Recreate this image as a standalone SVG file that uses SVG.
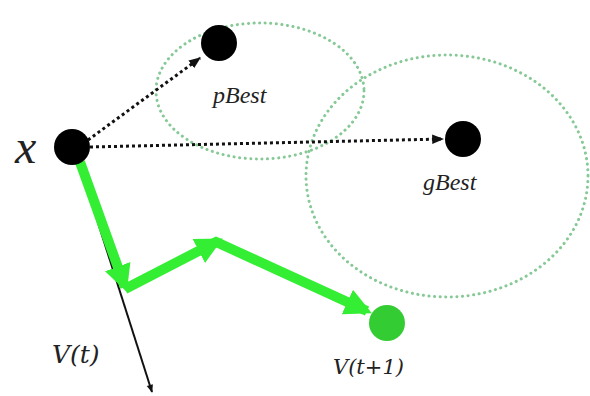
<svg xmlns="http://www.w3.org/2000/svg" width="590" height="396" viewBox="0 0 590 396">
<style>
.reg{fill:none;stroke:#86c996;stroke-width:3;stroke-dasharray:0.1 5.5;stroke-linecap:round}
.dot{fill:none;stroke:#111;stroke-width:3;stroke-dasharray:3 3}
.grn{fill:none;stroke:#33ee33;stroke-width:10;stroke-linejoin:miter}
.lbl{font-family:"Liberation Serif",serif;font-style:italic;fill:#222}
.lbl2{font-family:"DejaVu Serif","Liberation Serif",serif;font-style:italic;fill:#222}
</style>
<defs>
<marker id="ab" viewBox="0 0 10 10" refX="9" refY="5" markerWidth="4" markerHeight="4" orient="auto"><path d="M0,1 L10,5 L0,9 z" fill="#111"/></marker>
<marker id="ak" viewBox="0 0 10 10" refX="9" refY="5" markerWidth="10" markerHeight="8" orient="auto" markerUnits="userSpaceOnUse"><path d="M0,1 L10,5 L0,9 z" fill="#111"/></marker>
<marker id="ag" viewBox="0 0 10 10" refX="8" refY="5" markerWidth="2.7" markerHeight="2.7" orient="auto"><path d="M0,0 L10,5 L0,10 z" fill="#33ee33"/></marker>
</defs>
<rect width="590" height="396" fill="#fff"/>
<g id="regions">
<ellipse class="reg" cx="260" cy="91" rx="104" ry="68"/>
<ellipse class="reg" cx="447" cy="176" rx="141" ry="121"/>
</g>
<g id="connectors">
<line class="dot" x1="88" y1="140" x2="200" y2="58" marker-end="url(#ab)"/>
<line class="dot" x1="90" y1="147" x2="443" y2="139" marker-end="url(#ab)"/>
<line x1="78" y1="160" x2="152" y2="392" stroke="#111" stroke-width="2" marker-end="url(#ak)"/>
<line class="grn" x1="80" y1="162" x2="125" y2="287" marker-end="url(#ag)"/>
<line class="grn" x1="125" y1="289" x2="218" y2="241" marker-end="url(#ag)"/>
<line class="grn" x1="214" y1="241" x2="367" y2="311" marker-end="url(#ag)"/>
</g>
<g id="x"><circle cx="72" cy="147" r="18" fill="#000"/><text class="lbl" x="15" y="163" font-size="48">x</text></g>
<g id="pBest"><circle cx="219" cy="43" r="18" fill="#000"/><text class="lbl" x="213" y="103" font-size="24">pBest</text></g>
<g id="gBest"><circle cx="463" cy="139" r="18" fill="#000"/><text class="lbl" x="423" y="190" font-size="24">gBest</text></g>
<g id="vt1"><circle cx="387" cy="323" r="18" fill="#33cc33"/><text class="lbl2" x="333" y="374" font-size="21">V(t+1)</text></g>
<g id="vt"><text class="lbl2" x="52" y="363" font-size="25">V(t)</text></g>
</svg>
